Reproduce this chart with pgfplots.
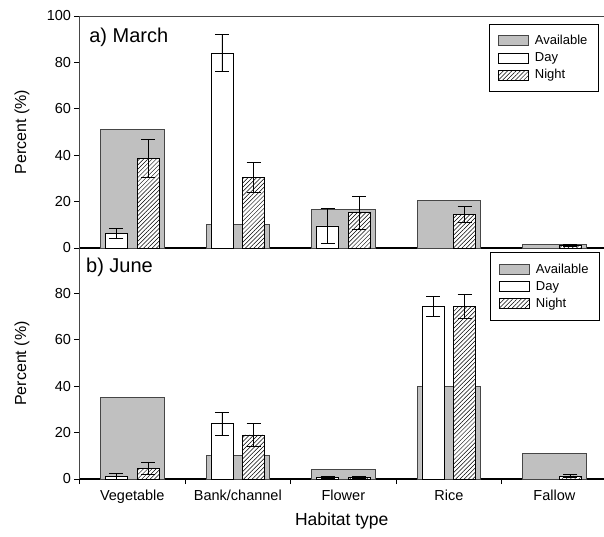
\documentclass[border=0pt]{standalone}
\usepackage{pgfplots}
\pgfplotsset{compat=1.18}
\usetikzlibrary{patterns.meta}
\usepackage{fontspec}
\setmainfont{Liberation Sans}
\definecolor{availgray}{RGB}{192,192,192}
\definecolor{edgegray}{RGB}{70,70,70}

\pgfplotsset{
  panel/.style={
    scale only axis, width=524.5pt,
    xmin=-0.5, xmax=4.47,
    axis x line=bottom, axis y line=left,
    x axis line style={-, black, line width=1.2pt},
    y axis line style={-, edgegray, line width=0.8pt},
    tick align=outside, major tick length=5pt,
    tick style={black, line width=0.6pt},
    ticklabel style={font=\fontsize{14.5}{16}\selectfont},
    /pgf/number format/assume math mode=true,
    ylabel={Percent (\%)},
    ylabel style={at={(axis description cs:-0.1096,0.5)}, anchor=center, font=\fontsize{16}{18}\selectfont},
    legend cell align=left,
    legend style={draw=black, line width=0.6pt, font=\fontsize{13}{15}\selectfont,
      inner xsep=9pt, inner ysep=9pt, row sep=2.5pt},
    legend image code/.code={\draw[#1] (0pt,-5pt) rectangle (30pt,5pt);},
    error bars/y dir=both, error bars/y explicit,
    error bars/error bar style={black, line width=0.6pt},
    error bars/error mark options={black, mark size=7pt, line width=0.6pt, rotate=90},
  },
  avail/.style={ybar, bar width=0.6, bar shift=0, fill=availgray, draw=edgegray, line width=0.7pt},
  day/.style={ybar, bar width=0.21, bar shift=0, fill=white, draw=black, line width=0.6pt},
  night/.style={ybar, bar width=0.21, bar shift=0, fill=white, draw=black, line width=0.6pt,
    postaction={pattern={Lines[angle=45,distance=3pt,line width=0.5pt]}}},
}

\begin{document}
\begin{tikzpicture}
\path[use as bounding box] (-79.5pt,-57pt) rectangle (524.5pt,479pt);

% ---- a) March ----  (Day bars at x-0.15, Night bars at x+0.15)
\begin{axis}[panel, at={(0pt,231pt)}, height=232pt,
  ymin=0, ymax=100, ytick={0,20,...,100}, xtick=\empty,
  legend style={at={(0.99,0.966)}, anchor=north east}]
\addplot[avail] coordinates {(0,51) (1,10) (2,16.7) (3,20.4) (4,1.6)};
\addplot[day] coordinates {(-0.15,6.3) +- (0,2.3) (0.85,84) +- (0,8) (1.85,9.5) +- (0,7.4)};
\addplot[night] coordinates {(0.15,38.7) +- (0,8.2) (1.15,30.5) +- (0,6.5) (2.15,15.3) +- (0,7.2) (3.15,14.5) +- (0,3.3) (4.15,1.2) +- (0,0.6)};
\legend{\hspace{4pt}Available,\hspace{4pt}Day,\hspace{4pt}Night}
\draw[edgegray, line width=0.8pt] (rel axis cs:0,1) -- (rel axis cs:1,1);
\node[anchor=west, font=\fontsize{20}{22}\selectfont] at (rel axis cs:0.012,0.91) {a) March};
\end{axis}

% ---- b) June ----
\begin{axis}[panel, at={(0pt,0pt)}, height=231pt,
  ymin=0, ymax=99.5, ytick={0,20,...,80},
  xtick={-0.5,0.5,1.5,2.5,3.5}, xticklabels={},
  extra x ticks={0,1,2,3,4},
  extra x tick labels={Vegetable,Bank/channel,Flower,Rice,Fallow},
  extra x tick style={major tick length=0pt, xticklabel style={yshift=-7pt}},
  xlabel={Habitat type},
  xlabel style={at={(axis description cs:0.5,-0.18)}, anchor=center, font=\fontsize{17.5}{19}\selectfont},
  legend style={at={(0.992,0.981)}, anchor=north east}]
\addplot[avail] coordinates {(0,35) (1,10) (2,4.1) (3,40) (4,11)};
\addplot[day] coordinates {(-0.15,1.1) +- (0,1.2) (0.85,23.8) +- (0,4.8) (1.85,0.6) +- (0,0.5) (2.85,74.4) +- (0,4.3)};
\addplot[night] coordinates {(0.15,4.7) +- (0,2.7) (1.15,19) +- (0,4.8) (2.15,0.6) +- (0,0.4) (3.15,74.4) +- (0,5.2) (4.15,1.3) +- (0,0.6)};
\legend{\hspace{4pt}Available,\hspace{4pt}Day,\hspace{4pt}Night}
\node[anchor=west, font=\fontsize{20}{22}\selectfont] at (rel axis cs:0.006,0.917) {b) June};
\end{axis}
\end{tikzpicture}
\end{document}
